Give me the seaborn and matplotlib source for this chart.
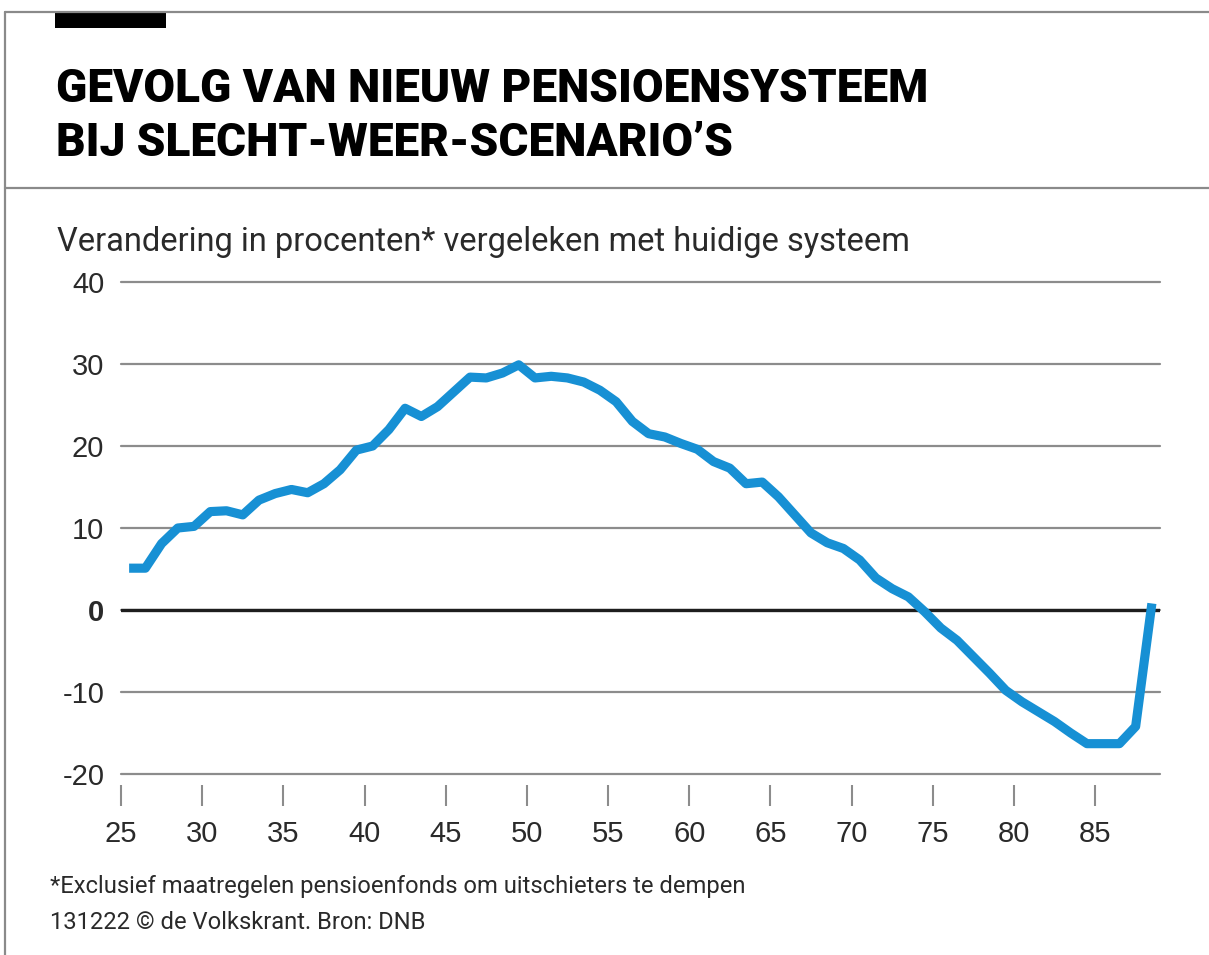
import matplotlib
matplotlib.use("Agg")
import matplotlib.pyplot as plt
from matplotlib import font_manager as fm
from matplotlib.lines import Line2D
from matplotlib.patches import Rectangle
import seaborn as sns
import pandas as pd

# ---- data ----
ages = list(range(25, 89))
change = [5.1, 5.1, 8.1, 10.0, 10.2, 12.0, 12.1, 11.6, 13.4, 14.2,
          14.7, 14.3, 15.4, 17.1, 19.5, 20.0, 22.0, 24.6, 23.6, 24.8,
          26.6, 28.4, 28.3, 28.9, 29.9, 28.3, 28.5, 28.3, 27.8, 26.8,
          25.4, 23.0, 21.5, 21.1, 20.3, 19.6, 18.1, 17.3, 15.4, 15.6,
          13.8, 11.6, 9.4, 8.2, 7.5, 6.1, 3.9, 2.6, 1.6, -0.2,
          -2.2, -3.7, -5.7, -7.7, -9.8, -11.2, -12.4, -13.6, -15.0, -16.3,
          -16.3, -16.3, -14.2, 0.8]
x_ticks = [25, 30, 35, 40, 45, 50, 55, 60, 65, 70, 75, 80, 85]
y_ticks = [-20, -10, 0, 10, 20, 30, 40]

title_lines = ["GEVOLG VAN NIEUW PENSIOENSYSTEEM", "BIJ SLECHT-WEER-SCENARIO\u2019S"]
subtitle = "Verandering in procenten* vergeleken met huidige systeem"
footnote = "*Exclusief maatregelen pensioenfonds om uitschieters te dempen"
credit = "131222 \u00a9 de Volkskrant. Bron: DNB"

sns.set_style("white")
names = {f.name for f in fm.fontManager.ttflist}
narrow = "Liberation Sans Narrow" if "Liberation Sans Narrow" in names else "Roboto"
plt.rcParams["font.family"] = [narrow, "DejaVu Sans"]

W, H = 1209, 955
fig = plt.figure(figsize=(W / 100, H / 100), dpi=100)
fig.patch.set_facecolor("white")

def fx(px):
    return px / W

def fy(py):
    return 1 - py / H

ax = fig.add_axes([fx(121), fy(774), fx(1160) - fx(121), fy(282) - fy(774)])

df = pd.DataFrame({"age": ages, "change": change})
df["pos"] = df["age"] + 0.5  # values centred within each year of age
sns.lineplot(data=df, x="pos", y="change", ax=ax, color="#1790d4",
             linewidth=6.6, solid_joinstyle="round", solid_capstyle="butt",
             clip_on=False, zorder=5)

ax.set_xlim(25, 89)
ax.set_ylim(-20, 40)
ax.set_xlabel("")
ax.set_ylabel("")
ax.set_xticks(x_ticks)
ax.set_xticklabels([str(t) for t in x_ticks])
ax.set_yticks(y_ticks)
ax.set_yticklabels([str(t) for t in y_ticks])
for lab in ax.get_yticklabels():
    if lab.get_text() == "0":
        lab.set_fontweight("bold")
        lab.set_color("black")

for s in ["top", "right", "left"]:
    ax.spines[s].set_visible(False)
ax.spines["bottom"].set_position(("outward", 8))
ax.spines["bottom"].set_visible(False)

ax.grid(axis="y", color="#8c8c8c", linewidth=1.6)
ax.grid(axis="x", visible=False)
for gl in ax.get_ygridlines():
    gl.set_clip_on(False)
ax.axhline(0, color="#1e1e1e", linewidth=2.4, zorder=3)

ax.tick_params(axis="x", length=15, width=1.5, color="#8c8c8c", pad=10,
               labelsize=21, labelcolor="#2a2a2a", direction="out", bottom=True)
ax.tick_params(axis="y", length=0, pad=12, labelsize=21, labelcolor="#2a2a2a")
for lab in ax.get_xticklabels() + ax.get_yticklabels():
    lab.set_family(["Liberation Sans", "DejaVu Sans"])

# ---- frame and header decorations ----
frame_col = "#8a8a8a"
fig.add_artist(Line2D([fx(5), fx(W)], [fy(12), fy(12)], color=frame_col, lw=1.6))
fig.add_artist(Line2D([fx(5), fx(5)], [fy(12), fy(H)], color=frame_col, lw=1.6))
fig.add_artist(Line2D([fx(5), fx(W)], [fy(188), fy(188)], color=frame_col, lw=1.6))
fig.add_artist(Rectangle((fx(55), fy(28)), fx(166) - fx(55), fy(12) - fy(28),
                         facecolor="black", edgecolor="none"))

fig.text(fx(56), fy(102), title_lines[0], fontsize=33, fontweight=900,
         color="black", va="baseline", ha="left")
fig.text(fx(56), fy(156), title_lines[1], fontsize=33, fontweight=900,
         color="black", va="baseline", ha="left")
fig.text(fx(57), fy(251), subtitle, fontsize=23.5, color="#2a2a2a",
         va="baseline", ha="left")
fig.text(fx(50), fy(893), footnote, fontsize=17.1, color="#2a2a2a",
         va="baseline", ha="left")
fig.text(fx(50), fy(929), credit, fontsize=17.1, color="#2a2a2a",
         va="baseline", ha="left")

fig.savefig("out.png", dpi=100, facecolor="white")
